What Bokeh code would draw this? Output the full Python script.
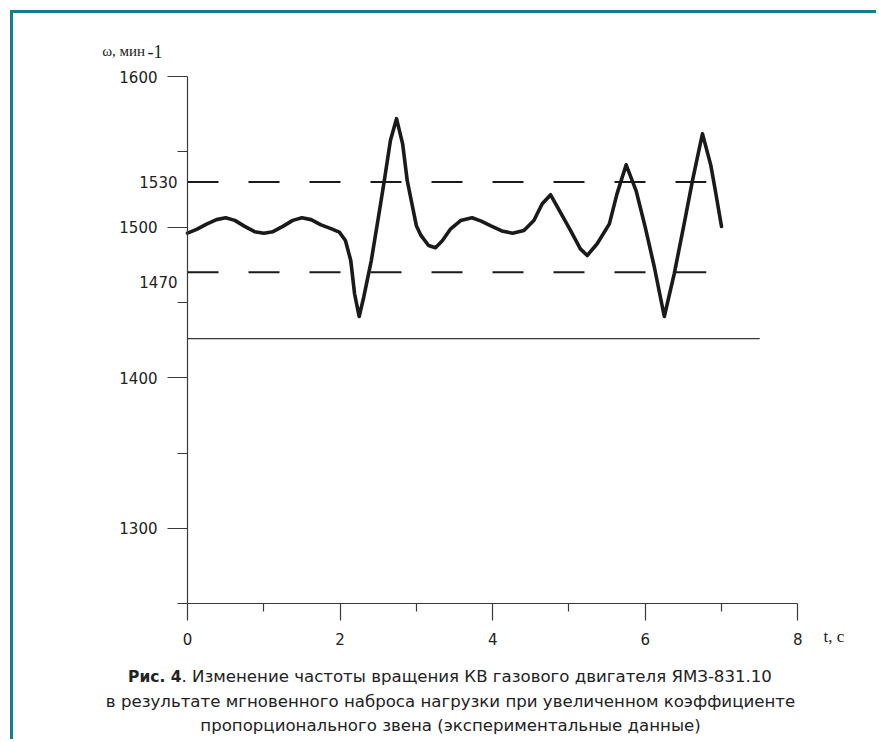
from bokeh.plotting import figure
from bokeh.models import FixedTicker, Label, LinearAxis
from bokeh.embed import file_html
from bokeh.resources import INLINE

# ---- data ----
t = [0.00, 0.12, 0.25, 0.38, 0.50, 0.62, 0.75, 0.88, 1.00, 1.12, 1.25, 1.38, 1.50,
     1.62, 1.75, 1.88, 1.99, 2.07, 2.14, 2.19, 2.25, 2.31, 2.41, 2.51, 2.58, 2.66,
     2.74, 2.82, 2.88, 2.96, 3.00, 3.06, 3.16, 3.25, 3.34, 3.45, 3.58, 3.73, 3.85,
     3.97, 4.12, 4.26, 4.41, 4.54, 4.65, 4.76, 4.85, 5.02, 5.15, 5.24, 5.37, 5.53,
     5.63, 5.75, 5.88, 6.00, 6.12, 6.25, 6.38, 6.51, 6.62, 6.75, 6.86, 6.92, 7.00]
omega = [1496.0, 1498.5, 1502.0, 1505.0, 1506.2, 1504.5, 1500.5, 1497.0, 1496.0,
         1497.0, 1500.5, 1504.5, 1506.2, 1505.0, 1501.5, 1499.0, 1496.7, 1491.1,
         1477.9, 1455.8, 1440.7, 1453.5, 1478.0, 1508.9, 1531.0, 1557.5, 1572.0,
         1555.3, 1531.0, 1511.0, 1501.0, 1494.5, 1487.8, 1486.3, 1491.0, 1498.9,
         1504.4, 1506.2, 1504.0, 1501.0, 1497.5, 1496.0, 1497.8, 1504.4, 1515.5,
         1521.5, 1513.3, 1497.8, 1485.6, 1481.2, 1489.0, 1502.2, 1522.1, 1541.4,
         1524.3, 1500.0, 1473.4, 1440.7, 1469.0, 1502.2, 1531.0, 1562.0, 1541.0,
         1524.0, 1500.4]

band_t = [0.0, 6.8]
band_upper = [1530, 1530]
band_lower = [1470, 1470]
band_labels = ["1530", "1470"]

base_t = [0.0, 7.5]
base_w = [1426, 1426]

x_major = [0, 2, 4, 6, 8]
x_minor = [1, 3, 5, 7]
y_major = [1300, 1400, 1500, 1600]
y_minor = [1250, 1350, 1450, 1550]
Y0, Y1 = 1250, 1600
X0, X1 = 0, 8

y_title = "ω, мин"
y_title_sup = "-1"
x_title = "t, c"
cap_bold = "Рис. 4"
cap_line1 = ". Изменение частоты вращения КВ газового двигателя ЯМЗ-831.10"
cap_line2 = "в результате мгновенного наброса нагрузки при увеличенном коэффициенте"
cap_line3 = "пропорционального звена (экспериментальные данные)"

TEAL = "#138089"
INK = "#1a1a1a"
AX = "#3a3a3a"
TXT = "#222222"

# ---- layout (window pixels) ----
OFF = 13                     # margin + border in front of the canvas
W, H = 879 - OFF, 742 - OFF  # canvas size
ML, MT = 85, 10              # panels reserved for the axes
FL, FT, FR, FB = OFF + ML, OFF + MT, 879, 742   # frame box in window px
AX_X0, AX_X1 = 187.0, 797.3  # where t = 0 and t = 8 fall
AX_Y1, AX_Y0 = 76.0, 603.3   # where 1600 and 1250 fall
kx = (AX_X1 - AX_X0) / (X1 - X0)
ky = (AX_Y0 - AX_Y1) / (Y1 - Y0)
x_rng = (X0 - (AX_X0 - FL) / kx, X0 + (FR - AX_X0) / kx)
y_rng = (Y0 - (FB - AX_Y0) / ky, Y1 + (AX_Y1 - FT) / ky)

p = figure(width=W, height=H, x_range=x_rng, y_range=y_rng,
           output_backend="svg", toolbar_location=None,
           x_axis_location=None, y_axis_location=None,
           min_border_left=ML, min_border_right=0,
           min_border_top=MT, min_border_bottom=0)
p.margin = (10, 0, 0, 10)
p.styles = {"border-top": f"3px solid {TEAL}", "border-left": f"3px solid {TEAL}"}

p.xgrid.visible = False
p.ygrid.visible = False
p.outline_line_color = None
p.background_fill_color = "white"
p.border_fill_color = "white"

# y axis, drawn at t = 0
yax = LinearAxis(fixed_location=X0, bounds=(Y0, Y1),
                 ticker=FixedTicker(ticks=y_major, minor_ticks=y_minor))
yax.major_tick_out = 20
yax.minor_tick_out = 10
yax.major_tick_in = 0
yax.minor_tick_in = 0
yax.major_label_standoff = 10

# x axis, drawn at omega = 1250: ticks point down, labels pushed below the line
xax = LinearAxis(fixed_location=Y0, bounds=(X0, X1),
                 ticker=FixedTicker(ticks=x_major, minor_ticks=x_minor))
xax.major_tick_out = 0
xax.minor_tick_out = 0
xax.major_tick_in = 17
xax.minor_tick_in = 8
xax.major_label_standoff = -41

for ax in (xax, yax):
    ax.axis_line_color = AX
    ax.axis_line_width = 1.2
    ax.major_tick_line_color = AX
    ax.minor_tick_line_color = AX
    ax.major_tick_line_width = 1.2
    ax.minor_tick_line_width = 1.2
    ax.major_label_text_font = "DejaVu Sans"
    ax.major_label_text_font_size = "15px"
    ax.major_label_text_color = TXT

p.add_layout(yax, "left")
p.add_layout(xax, "above")

# reference lines
p.line(base_t, base_w, line_color=AX, line_width=1.2)
p.line(band_t, band_upper, line_color=INK, line_width=2, line_dash="31 30")
p.line(band_t, band_lower, line_color=INK, line_width=2, line_dash="31 30")

# measured curve
p.line(t, omega, line_color=INK, line_width=3.6, line_join="round", line_cap="round")


def add_text(px, py, text, size, font="DejaVu Sans", align="left",
             baseline="alphabetic", style="normal"):
    # px, py: window position; Label screen units run from the frame's bottom-left
    p.add_layout(Label(x=px - FL, y=FB - py, x_units="screen", y_units="screen",
                       text=text, text_align=align, text_baseline=baseline,
                       text_font=font, text_font_size=size,
                       text_font_style=style, text_color=TXT))


# labels of the band lines
for val, lab, yo in zip([band_upper[0], band_lower[0]], band_labels, [0, -10]):
    p.add_layout(Label(x=X0, y=val, x_offset=-10, y_offset=yo, text=lab,
                       text_align="right", text_baseline="middle",
                       text_font="DejaVu Sans", text_font_size="15px",
                       text_color=TXT))

# axis titles
add_text(101.7, 50.5, y_title, "15px", font="Liberation Serif")
add_text(147, 50.5, y_title_sup, "18px", font="Liberation Serif")
add_text(823.0, 636.0, x_title, "17px", font="Liberation Serif")

# caption
add_text(181, 676, cap_bold, "15.5px", align="right", style="bold")
add_text(181, 676, cap_line1, "16.6px")
add_text(450, 700.5, cap_line2, "16.6px", align="center")
add_text(450, 724.5, cap_line3, "16.6px", align="center")

open("out.html", "w").write(file_html(p, INLINE))
